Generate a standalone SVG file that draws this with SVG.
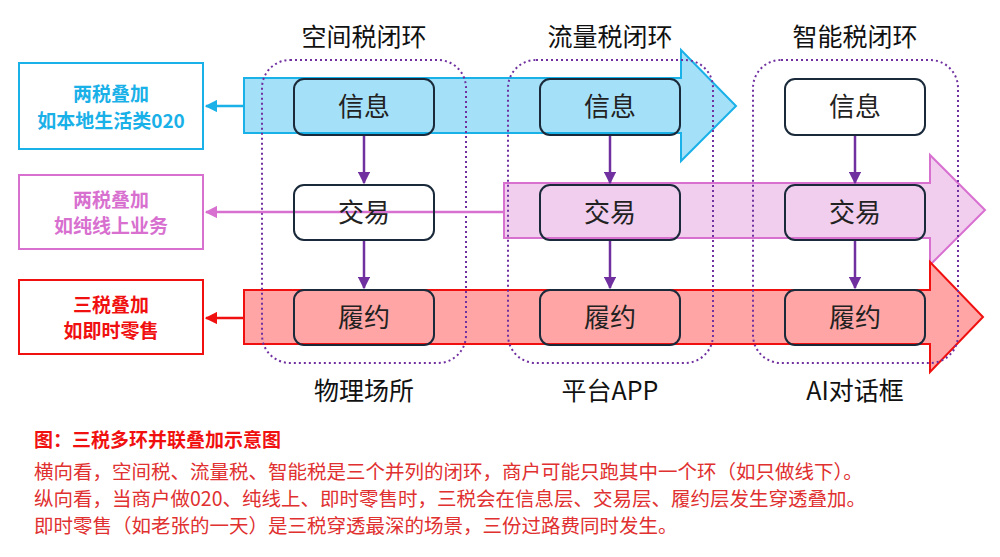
<svg xmlns="http://www.w3.org/2000/svg" width="1000" height="557" viewBox="0 0 1000 557">
<defs>
<style>
text{font-family:"Noto Sans CJK SC","Liberation Serif",serif;}
.t{font-size:25px;fill:#111;text-anchor:middle}
.n{fill:none;stroke:#1a2a3a;stroke-width:2}
.nl{font-size:26px;fill:#222;text-anchor:middle}
.loop{fill:none;stroke:#7030a0;stroke-width:2;stroke-dasharray:2 3}
.lb{font-size:19px;text-anchor:middle;font-weight:bold}
.body{font-size:19.5px;fill:#e03030}
</style>
<marker id="mp" viewBox="0 0 10 10" refX="9" refY="5" markerWidth="5" markerHeight="5" orient="auto"><path d="M0,0L10,5L0,10z" fill="#7030a0"/></marker>
<marker id="mb" viewBox="0 0 10 10" refX="9" refY="5" markerWidth="5" markerHeight="5" orient="auto"><path d="M0,0L10,5L0,10z" fill="#1ab0e8"/></marker>
<marker id="mk" viewBox="0 0 10 10" refX="9" refY="5" markerWidth="5" markerHeight="5" orient="auto"><path d="M0,0L10,5L0,10z" fill="#d870d0"/></marker>
<marker id="mr" viewBox="0 0 10 10" refX="9" refY="5" markerWidth="5" markerHeight="5" orient="auto"><path d="M0,0L10,5L0,10z" fill="#f01010"/></marker>
</defs>
<rect width="1000" height="557" fill="#fff"/>
<g id="titles">
<text class="t" x="364" y="46">空间税闭环</text>
<text class="t" x="610" y="46">流量税闭环</text>
<text class="t" x="855" y="46">智能税闭环</text>
<text class="t" x="364" y="400">物理场所</text>
<text class="t" x="610" y="400">平台APP</text>
<text class="t" x="855" y="400">AI对话框</text>
</g>
<g id="bands">
<path d="M244,78H681V50L736,106L681,161V133H244Z" fill="#a4e0f8" stroke="#1ab0e8" stroke-width="2"/>
<path d="M504,183H930V155L985,210L930,265V238H504Z" fill="#f0c8ec" fill-opacity="0.9" stroke="#d870d0" stroke-width="2"/>
<path d="M244,290H930V262L983,317L930,372V344H244Z" fill="#ffa0a0" fill-opacity="0.95" stroke="#f01010" stroke-width="2"/>
</g>
<g id="loops">
<rect class="loop" x="262" y="60" width="204" height="303" rx="28"/>
<rect class="loop" x="508" y="60" width="205" height="303" rx="28"/>
<rect class="loop" x="753" y="60" width="205" height="303" rx="28"/>
</g>
<g id="connectors" stroke-width="2.5" fill="none">
<line x1="364" y1="135" x2="364" y2="183" stroke="#7030a0" marker-end="url(#mp)"/>
<line x1="364" y1="240" x2="364" y2="288" stroke="#7030a0" marker-end="url(#mp)"/>
<line x1="610" y1="135" x2="610" y2="183" stroke="#7030a0" marker-end="url(#mp)"/>
<line x1="610" y1="240" x2="610" y2="288" stroke="#7030a0" marker-end="url(#mp)"/>
<line x1="855" y1="135" x2="855" y2="183" stroke="#7030a0" marker-end="url(#mp)"/>
<line x1="855" y1="240" x2="855" y2="288" stroke="#7030a0" marker-end="url(#mp)"/>
<line x1="244" y1="106" x2="206" y2="106" stroke="#1ab0e8" marker-end="url(#mb)"/>
<line x1="504" y1="212" x2="206" y2="212" stroke="#d870d0" marker-end="url(#mk)"/>
<line x1="244" y1="318" x2="206" y2="318" stroke="#f01010" marker-end="url(#mr)"/>
</g>
<g id="n11"><rect class="n" x="294" y="79" width="140" height="56" rx="10" fill="#a4e0f8"/><text class="nl" x="364" y="116">信息</text></g>
<g id="n12"><rect class="n" x="294" y="185" width="140" height="55" rx="10" fill="#fff"/><text class="nl" x="364" y="222">交易</text></g>
<g id="n13"><rect class="n" x="294" y="290" width="140" height="55" rx="10" fill="#ffa0a0"/><text class="nl" x="364" y="327">履约</text></g>
<g id="n21"><rect class="n" x="540" y="79" width="140" height="56" rx="10" fill="#a4e0f8"/><text class="nl" x="610" y="116">信息</text></g>
<g id="n22"><rect class="n" x="540" y="185" width="140" height="55" rx="10" fill="#f0c8ec"/><text class="nl" x="610" y="222">交易</text></g>
<g id="n23"><rect class="n" x="540" y="290" width="140" height="55" rx="10" fill="#ffa0a0"/><text class="nl" x="610" y="327">履约</text></g>
<g id="n31"><rect class="n" x="785" y="79" width="140" height="56" rx="10" fill="#fff"/><text class="nl" x="855" y="116">信息</text></g>
<g id="n32"><rect class="n" x="785" y="185" width="140" height="55" rx="10" fill="#f0c8ec"/><text class="nl" x="855" y="222">交易</text></g>
<g id="n33"><rect class="n" x="785" y="290" width="140" height="55" rx="10" fill="#ffa0a0"/><text class="nl" x="855" y="327">履约</text></g>
<g id="L1"><rect x="19" y="63" width="184" height="86" fill="#fff" stroke="#1ab0e8" stroke-width="2"/><text class="lb" x="111" y="101" fill="#1ab0e8">两税叠加</text><text class="lb" x="111" y="128" fill="#1ab0e8">如本地生活类020</text></g>
<g id="L2"><rect x="19" y="175" width="184" height="74" fill="#fff" stroke="#d870d0" stroke-width="2"/><text class="lb" x="111" y="207" fill="#d870d0">两税叠加</text><text class="lb" x="111" y="233" fill="#d870d0">如纯线上业务</text></g>
<g id="L3"><rect x="19" y="280" width="184" height="74" fill="#fff" stroke="#f01010" stroke-width="2"/><text class="lb" x="111" y="312" fill="#f01010">三税叠加</text><text class="lb" x="111" y="338" fill="#f01010">如即时零售</text></g>
<g id="caption">
<text x="34" y="447" font-size="19" font-weight="bold" fill="#f01010">图：三税多环并联叠加示意图</text>
<text class="body" x="34" y="479">横向看，空间税、流量税、智能税是三个并列的闭环，商户可能只跑其中一个环（如只做线下）。</text>
<text class="body" x="34" y="506">纵向看，当商户做020、纯线上、即时零售时，三税会在信息层、交易层、履约层发生穿透叠加。</text>
<text class="body" x="34" y="533">即时零售（如老张的一天）是三税穿透最深的场景，三份过路费同时发生。</text>
</g>
</svg>
